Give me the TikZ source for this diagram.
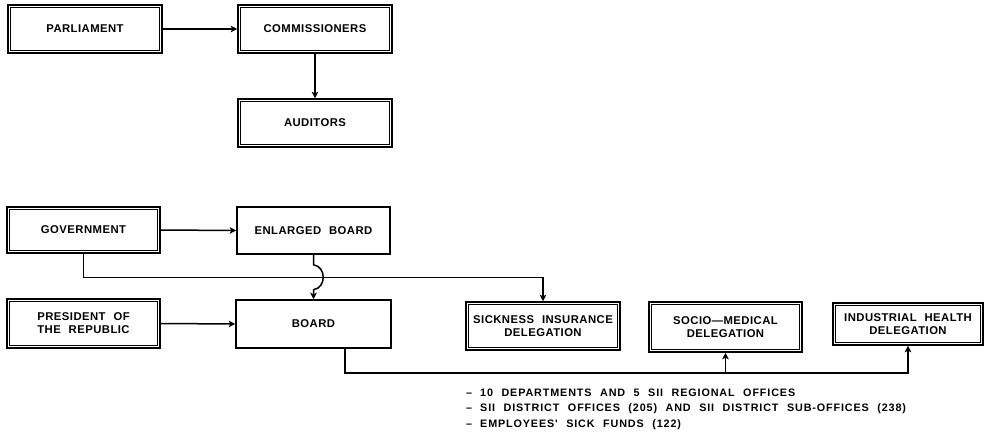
\documentclass[tikz,border=0pt]{standalone}
\usepackage{fontspec}
\setmainfont{Liberation Sans}[WordSpace=2.2]
\newfontfamily\boxfont{Liberation Sans}[WordSpace=2.2, LetterSpace=4]
\newfontfamily\listfont{Liberation Sans}[WordSpace=2.2, LetterSpace=8]
\usetikzlibrary{arrows.meta,calc}
\tikzset{
  box/.style={draw, line width=1.5pt, inner sep=0pt, align=center,
    font=\boxfont\fontsize{11.3}{13}\selectfont\bfseries},
  arr/.style={line width=1.5pt, -{Stealth[length=6.5pt,width=6.5pt,inset=1.5pt]}},
  listtxt/.style={anchor=west, inner sep=0pt, font=\listfont\fontsize{10.8}{12}\selectfont\bfseries}
}
\begin{document}
\begin{tikzpicture}[x=1pt,y=-1pt]
\useasboundingbox (0,0) rectangle (986,436);
% nodes
\node[box, minimum width=154pt, minimum height=48pt] (par) at (85,29) {PARLIAMENT};
\node[box, minimum width=154pt, minimum height=48pt] (com) at (315,29) {COMMISSIONERS};
\node[box, minimum width=154pt, minimum height=48pt] (aud) at (315,123) {AUDITORS};
\node[box, minimum width=153pt, minimum height=46pt] (gov) at (83.5,230) {GOVERNMENT};
\node[box, minimum width=153pt, minimum height=47pt] (enl) at (313.5,230.5) {ENLARGED BOARD};
\node[box, minimum width=153pt, minimum height=49pt] (pres) at (83.5,323.5) {PRESIDENT OF\\THE REPUBLIC};
\node[box, minimum width=155pt, minimum height=48pt] (board) at (313.5,324) {BOARD};
\node[box, minimum width=154pt, minimum height=48pt] (sick) at (543,326) {SICKNESS INSURANCE\\DELEGATION};
\node[box, minimum width=153pt, minimum height=50pt] (socio) at (725.5,327) {SOCIO—MEDICAL\\DELEGATION};
\node[box, minimum width=150pt, minimum height=42pt] (ind) at (908,324) {INDUSTRIAL HEALTH\\DELEGATION};
% inner lines of double-framed boxes
\foreach \n in {par,com,aud,gov,pres,sick,socio,ind}{
  \draw[line width=0.7pt] ([shift={(3.5,3.5)}]\n.north west) rectangle ([shift={(-3.5,-3.5)}]\n.south east);
}
% connectors
\draw[arr] (par.east) -- (com.west);
\draw[arr] (com.south) -- (aud.north);
\draw[arr] (gov.east) -- (enl.west);
\draw[arr] (pres.east) -- (board.west);
\draw[arr] (gov.south) -- ++(0,23.5) -| (sick.north);
\draw[arr] (enl.south) -- ($(enl.south)+(0,10)$)
  .. controls ($(enl.south)+(13,12)$) and ($(enl.south)+(13,33)$) .. ($(enl.south)+(0,35)$)
  -- (board.north);
\coordinate (bx) at ([xshift=31.5pt]board.south);
\draw[arr] (bx) -- ++(0,24) -| (socio.south);
\draw[arr] (bx) -- ++(0,24) -| (ind.south);
% list
\node[listtxt] (l1) at (466,393) {–\hspace{8pt}10 DEPARTMENTS AND 5 SII REGIONAL OFFICES};
\node[listtxt] (l2) at (466,409) {–\hspace{8pt}SII DISTRICT OFFICES (205) AND SII DISTRICT SUB-OFFICES (238)};
\node[listtxt] (l3) at (466,425) {–\hspace{8pt}EMPLOYEES' SICK FUNDS (122)};
\end{tikzpicture}
\end{document}
